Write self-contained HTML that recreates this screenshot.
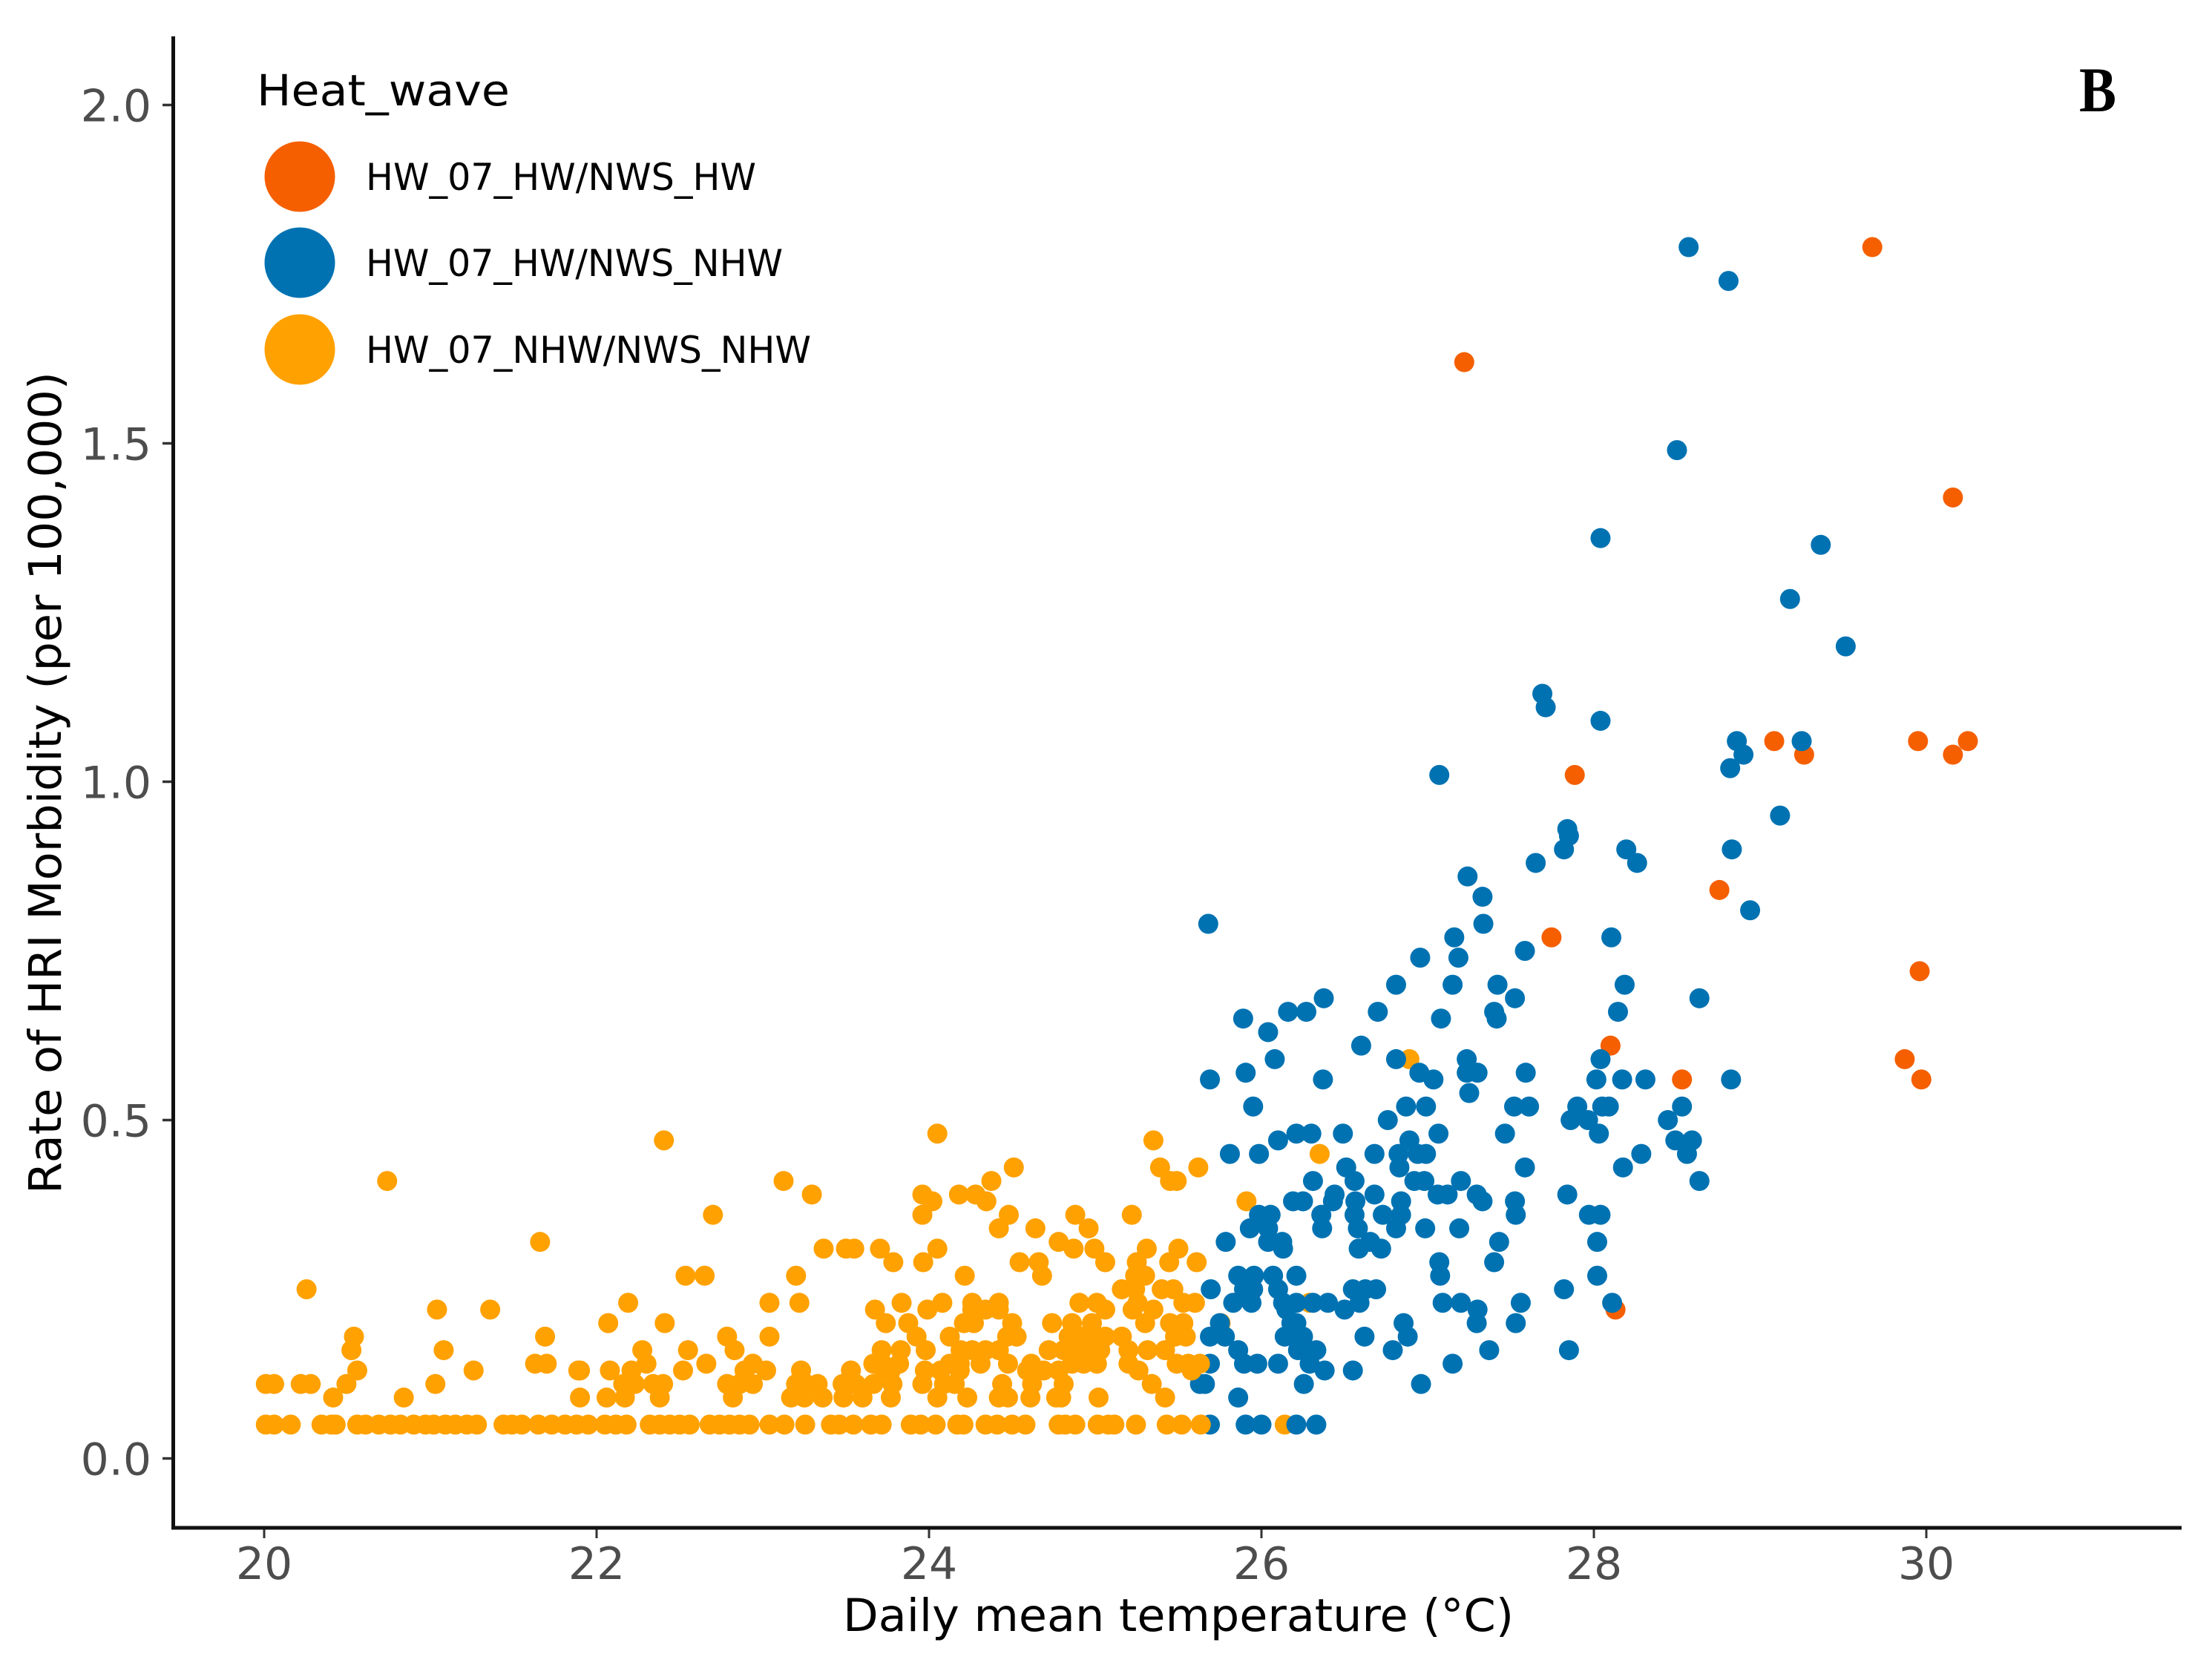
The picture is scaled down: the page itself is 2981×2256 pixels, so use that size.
<!DOCTYPE html>
<html lang="en">
<head>
<meta charset="utf-8">
<title>Rate of HRI Morbidity vs Daily mean temperature</title>
<style>
html,body{margin:0;padding:0;background:#fff;width:2981px;height:2256px;overflow:hidden}
svg{display:block}
text{font-family:"DejaVu Sans","Liberation Sans",sans-serif}
</style>
</head>
<body>
<svg id="chart" xmlns="http://www.w3.org/2000/svg" width="2981" height="2256" viewBox="0 0 2981 2256">
  <rect x="0" y="0" width="2981" height="2256" fill="#fff"/>
  <g id="marks-under"></g>
  <g id="marks-over"></g>
  <g id="x-ticks"></g>
  <g id="y-ticks"></g>
  <line x1="233.5" y1="49" x2="233.5" y2="2061" stroke="#111" stroke-width="5"/>
  <line x1="231" y1="2059" x2="2940" y2="2059" stroke="#111" stroke-width="5"/>
  <text x="1588" y="2198" text-anchor="middle" font-size="61" fill="#000" textLength="904" lengthAdjust="spacingAndGlyphs">Daily mean temperature (°C)</text>
  <text transform="translate(82,1055) rotate(-90)" text-anchor="middle" font-size="61" fill="#000" textLength="1108" lengthAdjust="spacingAndGlyphs">Rate of HRI Morbidity (per 100,000)</text>
  <text x="2802" y="150" font-size="86" font-weight="bold" style='font-family:"Liberation Serif",serif' fill="#000" textLength="50" lengthAdjust="spacingAndGlyphs">B</text>
  <g>
    <text x="346" y="142" font-size="58" fill="#000" textLength="341" lengthAdjust="spacingAndGlyphs">Heat_wave</text>
    <circle cx="404" cy="238" r="47.5" fill="#f55f00"/>
    <circle cx="404" cy="354" r="47.5" fill="#0072b2"/>
    <circle cx="404" cy="471" r="47.5" fill="#ffa100"/>
    <text x="493" y="256" font-size="50" fill="#000" textLength="526" lengthAdjust="spacingAndGlyphs">HW_07_HW/NWS_HW</text>
    <text x="493" y="372" font-size="50" fill="#000" textLength="562" lengthAdjust="spacingAndGlyphs">HW_07_HW/NWS_NHW</text>
    <text x="493" y="489" font-size="50" fill="#000" textLength="600" lengthAdjust="spacingAndGlyphs">HW_07_NHW/NWS_NHW</text>
  </g>
</svg>
<script>
const xTickValues = [20, 22, 24, 26, 28, 30];
const yTickValues = [0, 0.5, 1, 1.5, 2];
const yTickLabels = ["0.0", "0.5", "1.0", "1.5", "2.0"];

const redPoints = [[29.675,1.79],[27.22,1.62],[30.16,1.42],[29.085,1.06],[29.265,1.04],[29.95,1.06],[30.16,1.04],[30.25,1.06],[27.885,1.01],[28.755,.84],[27.745,.77],[29.96,.72],[29.87,.59],[29.97,.56],[28.53,.56],[28.10,.61],[28.13,.22]];

const bluePoints = [
[28.57,1.79],[28.81,1.74],[28.50,1.49],[28.04,1.36],[29.365,1.35],[29.18,1.27],[29.515,1.20],[27.69,1.13],[27.71,1.11],[28.04,1.09],[28.86,1.06],[28.90,1.04],[28.82,1.02],[29.25,1.06],[27.07,1.01],[29.12,.95],
[27.84,.93],[27.85,.92],[27.82,.90],[27.65,.88],[28.195,.90],[28.26,.88],[28.83,.90],[28.94,.81],[27.24,.86],[27.33,.83],[27.335,.79],[27.16,.77],[27.185,.74],[26.955,.74],[27.585,.75],[28.105,.77],[27.15,.70],[27.42,.70],[27.525,.68],[28.185,.70],[28.635,.68],[27.08,.65],[27.40,.66],[27.415,.65],[28.145,.66],
[25.68,.79],[25.89,.65],[26.04,.63],[26.16,.66],[26.27,.66],[26.375,.68],[25.69,.56],[25.905,.57],[26.08,.59],[26.37,.56],[25.95,.52],[26.60,.61],[26.70,.66],[26.81,.70],[26.81,.59],
[27.235,.59],[27.235,.57],[27.30,.57],[26.95,.57],[27.035,.56],[27.25,.54],[27.59,.57],[28.04,.59],[28.015,.56],[28.17,.56],[28.31,.56],[28.825,.56],
[26.87,.52],[26.99,.52],[27.52,.52],[27.61,.52],[27.90,.52],[28.05,.52],[28.09,.52],[27.86,.50],[27.965,.50],[28.03,.48],[28.53,.52],[28.445,.50],[28.49,.47],[28.59,.47],[28.56,.45],[28.285,.45],[28.175,.43],[26.76,.50],
[27.065,.48],[27.465,.48],[26.89,.47],[27.585,.43],[28.635,.41],[27.20,.41],
[25.81,.45],[25.985,.45],[26.10,.47],[26.21,.48],[26.30,.48],[26.49,.48],[26.31,.41],[26.51,.43],[26.56,.41],[26.19,.38],[26.25,.38],[26.36,.36],[26.365,.34],[26.44,.39],[26.43,.38],[26.565,.38],[26.68,.39],[26.56,.36],[26.58,.34],[26.655,.32],[26.585,.31],[26.72,.31],[26.73,.36],[26.84,.38],[26.84,.36],[26.81,.34],[26.985,.34],[27.19,.34],
[26.68,.45],[26.825,.45],[26.83,.43],[26.94,.45],[26.99,.45],[26.92,.41],[26.98,.41],[27.06,.39],[27.12,.39],[27.295,.39],[27.33,.38],[27.525,.38],[27.53,.36],[27.97,.36],[28.04,.36],[27.84,.39],[28.02,.32],[28.02,.27],
[25.785,.32],[25.93,.34],[25.985,.36],[26.055,.36],[26.04,.34],[26.04,.32],[26.125,.32],[26.13,.31],[27.07,.29],[27.075,.27],[27.43,.32],[27.40,.29],
[25.695,.25],[25.86,.27],[25.955,.27],[26.07,.27],[26.21,.27],[25.83,.23],[25.94,.23],[25.895,.25],[25.95,.25],[26.10,.25],[26.13,.23],[26.21,.23],[26.31,.23],[26.40,.23],[26.50,.22],[26.59,.23],[26.55,.25],[26.625,.25],[26.69,.25],[27.09,.23],[27.20,.23],[27.30,.22],[27.295,.20],[27.56,.23],[27.53,.20],[27.82,.25],[28.11,.23],
[26.15,.22],[26.18,.20],[26.21,.20],[26.14,.18],[26.24,.18],[26.25,.18],[26.22,.16],[26.27,.16],[26.33,.16],[26.29,.14],[26.38,.13],[25.69,.18],[25.78,.18],[25.75,.20],[25.86,.16],[26.62,.18],[26.79,.16],[26.88,.18],[26.855,.20],[27.37,.16],[27.85,.16],
[25.69,.14],[25.895,.14],[25.975,.14],[26.10,.14],[26.55,.13],[27.15,.14],[25.63,.11],[25.66,.11],[25.86,.09],[26.255,.11],[26.96,.11],
[25.69,.05],[25.905,.05],[26.0,.05],[26.21,.05],[26.33,.05]
];

const orangePoints = [
[20.01,.05],[20.06,.05],[20.16,.05],[20.345,.05],[20.405,.05],[20.43,.05],[20.56,.05],[20.61,.05],[20.69,.05],[20.76,.05],[20.82,.05],[20.90,.05],[20.97,.05],[21.02,.05],[21.09,.05],[21.15,.05],[21.22,.05],[21.28,.05],[21.44,.05],[21.49,.05],[21.55,.05],[21.65,.05],[21.73,.05],[21.81,.05],[21.88,.05],[21.95,.05],[22.05,.05],
[22.116,.05],[22.18,.05],[22.32,.05],[22.38,.05],[22.44,.05],[22.50,.05],[22.56,.05],[22.68,.05],[22.74,.05],[22.80,.05],[22.86,.05],[22.92,.05],[23.04,.05],[23.13,.05],[23.255,.05],[23.41,.05],[23.46,.05],[23.545,.05],[23.65,.05],[23.715,.05],[23.89,.05],[23.95,.05],[24.04,.05],[24.17,.05],
[24.207,.05],[24.34,.05],[24.41,.05],[24.50,.05],[24.58,.05],[24.78,.05],[24.82,.05],[24.88,.05],[25.015,.05],[25.08,.05],[25.115,.05],[25.245,.05],[25.43,.05],[25.52,.05],[25.635,.05],[26.14,.05],
[20.74,.41],[20.255,.25],[21.66,.32],[21.04,.22],[21.36,.22],[22.07,.20],[20.54,.18],[20.525,.16],[21.08,.16],[21.69,.18],[20.56,.13],[21.26,.13],[20.495,.11],[21.03,.11],[20.415,.09],[20.84,.09],[21.63,.14],[21.70,.14],[21.89,.13],[21.90,.13],[21.90,.09],[22.08,.13],[22.06,.09],[20.01,.11],[20.06,.11],[20.22,.11],[20.28,.11],
[22.405,.47],[23.125,.41],[23.295,.39],[22.70,.36],[24.05,.48],[23.96,.39],[24.02,.38],[23.96,.36],[24.18,.39],[23.366,.31],[23.50,.31],[23.55,.31],[23.705,.31],[23.785,.29],[23.965,.29],[24.05,.31],[22.535,.27],[22.65,.27],[23.20,.27],[24.215,.27],
[22.19,.23],[23.04,.23],[23.22,.23],[22.41,.20],[23.675,.22],[23.74,.20],[23.835,.23],[23.99,.22],[24.08,.23],[23.875,.20],[23.925,.18],[23.98,.16],[23.04,.18],[22.785,.18],[22.83,.16],[22.275,.16],[22.55,.16],[22.66,.14],[22.52,.13],[22.30,.14],[22.21,.13],
[22.17,.09],[22.16,.11],[22.23,.11],[22.34,.11],[22.40,.11],[22.38,.09],[22.94,.14],[22.89,.13],[23.02,.13],[22.785,.11],[22.94,.11],[22.86,.11],[22.82,.09],[23.23,.13],[23.20,.11],[23.33,.11],[23.26,.11],[23.17,.09],[23.25,.09],[23.36,.09],[23.53,.13],[23.48,.11],[23.56,.11],[23.485,.09],[23.60,.09],[23.77,.09],[23.715,.16],[23.83,.16],[23.665,.14],[23.72,.14],[23.82,.14],[23.77,.13],[23.665,.11],[23.78,.11],[23.73,.13],[23.975,.13],[23.96,.11],[24.05,.09],
[24.51,.43],[24.375,.41],[24.28,.39],[24.345,.38],[24.48,.36],[24.42,.34],[24.64,.34],[24.88,.36],[24.96,.34],[25.22,.36],[24.78,.32],[24.87,.31],[24.995,.31],[25.06,.29],[24.545,.29],[24.66,.29],[24.68,.27],[25.31,.31],[25.25,.29],[25.24,.27],[25.30,.27],[25.50,.31],[25.445,.29],[25.61,.29],[25.16,.25],[25.24,.25],[25.40,.25],[25.47,.25],[25.53,.23],[25.60,.23],
[24.26,.23],[24.42,.23],[24.34,.22],[24.42,.22],[24.26,.22],[24.21,.20],[24.27,.20],[24.50,.20],[24.125,.18],[24.527,.18],[24.47,.18],[24.19,.16],[24.26,.16],[24.34,.16],[24.42,.16],[24.31,.14],[24.475,.14],[24.125,.14],[24.185,.14],[24.07,.13],[24.185,.13],[24.09,.11],[24.155,.11],[24.23,.09],[24.44,.11],[24.42,.09],[24.475,.09],
[24.615,.14],[24.59,.13],[24.69,.13],[24.62,.11],[24.61,.09],[24.795,.09],[24.765,.09],[24.81,.11],[24.78,.13],[24.86,.14],[24.72,.16],[24.81,.16],[24.74,.20],[24.86,.20],[24.98,.20],[24.905,.23],[25.01,.23],[25.06,.22],[24.84,.18],[24.915,.18],[24.99,.18],[25.06,.18],[25.16,.18],[24.86,.16],[24.94,.16],[25.03,.16],[25.01,.14],[24.93,.14],[25.02,.09],
[25.20,.16],[25.315,.16],[25.42,.16],[25.20,.14],[25.26,.13],[25.34,.11],[25.42,.09],[25.225,.22],[25.255,.23],[25.35,.22],[25.30,.20],[25.45,.20],[25.53,.20],[25.48,.18],[25.545,.18],[25.49,.14],[25.56,.14],[25.63,.14],[25.58,.13],
[25.91,.38],[25.35,.47],[25.39,.43],[25.45,.41],[25.49,.41],[25.62,.43],[25.754,.20],[26.29,.23],[26.89,.59],[26.35,.45]
];

// Orange points at or below this temperature sit on top of the blue series
const orangeOverBlueBelow = 25.66;

const svgNS = "http://www.w3.org/2000/svg";
function xScale(t){ return 356 + (t - 20) * 224; }
function yScale(r){ return 1965.5 - r * 912; }

const under = document.getElementById("marks-under");
const over = document.getElementById("marks-over");
const xTicks = document.getElementById("x-ticks");
const yTicks = document.getElementById("y-ticks");

function addPoint(parent, p, fill, name){
  const c = document.createElementNS(svgNS, "circle");
  c.setAttribute("cx", xScale(p[0]));
  c.setAttribute("cy", yScale(p[1]));
  c.setAttribute("r", 13.5);
  c.setAttribute("fill", fill);
  
  
  parent.appendChild(c);
}

orangePoints.filter(p => p[0] > orangeOverBlueBelow).forEach(p => addPoint(under, p, "#ffa100", "point-hw07-nhw-nws-nhw"));
redPoints.forEach(p => addPoint(under, p, "#f55f00", "point-hw07-hw-nws-hw"));
bluePoints.forEach(p => addPoint(under, p, "#0072b2", "point-hw07-hw-nws-nhw"));
orangePoints.filter(p => p[0] <= orangeOverBlueBelow).forEach(p => addPoint(over, p, "#ffa100", "point-hw07-nhw-nws-nhw"));

xTickValues.forEach(v => {
  const l = document.createElementNS(svgNS, "line");
  l.setAttribute("x1", xScale(v));
  l.setAttribute("x2", xScale(v));
  l.setAttribute("y1", 2059);
  l.setAttribute("y2", 2073);
  l.setAttribute("stroke", "#333");
  l.setAttribute("stroke-width", 3);
  
  
  xTicks.appendChild(l);
  const t = document.createElementNS(svgNS, "text");
  t.setAttribute("x", xScale(v));
  t.setAttribute("y", 2128);
  t.setAttribute("text-anchor", "middle");
  t.setAttribute("font-size", 60);
  t.setAttribute("fill", "#4d4d4d");
  
  
  t.textContent = String(v);
  xTicks.appendChild(t);
});

yTickValues.forEach((v, i) => {
  const l = document.createElementNS(svgNS, "line");
  l.setAttribute("x1", 219);
  l.setAttribute("x2", 233);
  l.setAttribute("y1", yScale(v));
  l.setAttribute("y2", yScale(v));
  l.setAttribute("stroke", "#333");
  l.setAttribute("stroke-width", 3.5);
  
  
  yTicks.appendChild(l);
  const t = document.createElementNS(svgNS, "text");
  t.setAttribute("x", 204);
  t.setAttribute("y", yScale(v) + 22);
  t.setAttribute("text-anchor", "end");
  t.setAttribute("font-size", 60);
  t.setAttribute("fill", "#4d4d4d");
  
  
  t.textContent = yTickLabels[i];
  yTicks.appendChild(t);
});
</script>
</body>
</html>
